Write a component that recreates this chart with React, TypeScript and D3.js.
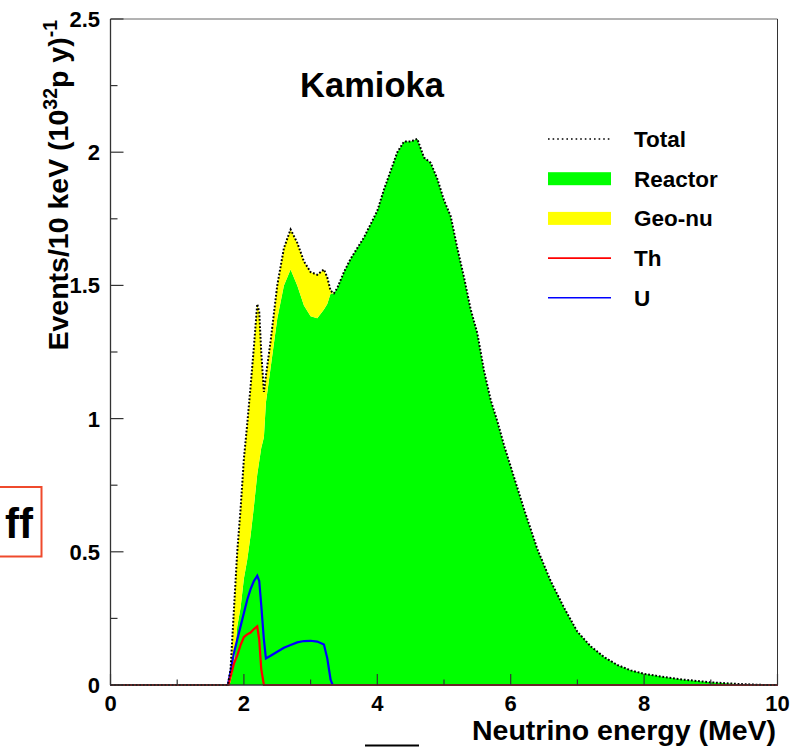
import React from "react";
import * as d3 from "d3";

// ---- data ----
const energy = [0, 1.70, 1.76, 1.80, 1.85, 1.90, 1.95, 2.00, 2.05, 2.10,
  2.15, 2.20, 2.23, 2.26, 2.30, 2.33, 2.40, 2.50, 2.60, 2.70,
  2.80, 2.90, 3.00, 3.10, 3.20, 3.25, 3.30, 3.35, 3.40, 3.50,
  3.60, 3.70, 3.80, 3.90, 4.00, 4.10, 4.20, 4.30, 4.40, 4.50,
  4.60, 4.70, 4.80, 4.90, 5.00, 5.10, 5.20, 5.30, 5.40, 5.50,
  5.60, 5.70, 5.80, 5.90, 6.00, 6.20, 6.40, 6.60, 6.80, 7.00,
  7.20, 7.40, 7.60, 7.80, 8.00, 8.30, 8.60, 9.00, 9.40, 9.80, 10.0];

const reactor = [0, 0, 0, 0.01, 0.08, 0.22, 0.29, 0.40, 0.47, 0.56,
  0.67, 0.79, 0.84, 0.89, 0.93, 1.06, 1.19, 1.375, 1.50, 1.56,
  1.50, 1.425, 1.384, 1.377, 1.41, 1.43, 1.47, 1.47, 1.49, 1.55,
  1.60, 1.64, 1.68, 1.73, 1.78, 1.86, 1.93, 2.00, 2.04, 2.04,
  2.05, 1.98, 1.96, 1.90, 1.82, 1.76, 1.64, 1.53, 1.41, 1.32,
  1.18, 1.07, 0.99, 0.90, 0.82, 0.66, 0.51, 0.39, 0.29, 0.20,
  0.145, 0.105, 0.075, 0.055, 0.042, 0.03, 0.02, 0.01, 0.004, 0, 0];

const total = [0, 0, 0, 0.06, 0.28, 0.50, 0.66, 0.85, 0.98, 1.12,
  1.27, 1.43, 1.40, 1.25, 1.10, 1.16, 1.29, 1.50, 1.64, 1.71,
  1.66, 1.59, 1.55, 1.54, 1.56, 1.53, 1.48, 1.47, 1.49, 1.55,
  1.60, 1.64, 1.68, 1.73, 1.78, 1.86, 1.93, 2.00, 2.04, 2.04,
  2.05, 1.98, 1.96, 1.90, 1.82, 1.76, 1.64, 1.53, 1.41, 1.32,
  1.18, 1.07, 0.99, 0.90, 0.82, 0.66, 0.51, 0.39, 0.29, 0.20,
  0.145, 0.105, 0.075, 0.055, 0.042, 0.03, 0.02, 0.01, 0.004, 0, 0];

const uEnergy = [0, 1.76, 1.80, 1.85, 1.90, 1.95, 2.00, 2.05, 2.10, 2.15, 2.20, 2.23, 2.26, 2.30, 2.33,
  2.40, 2.50, 2.60, 2.70, 2.80, 2.90, 3.00, 3.10, 3.20, 3.25, 3.30, 3.33, 10];
const uRate = [0, 0, 0.05, 0.12, 0.17, 0.22, 0.27, 0.32, 0.36, 0.39, 0.41, 0.39, 0.30, 0.17, 0.10,
  0.11, 0.125, 0.14, 0.15, 0.16, 0.165, 0.166, 0.163, 0.152, 0.10, 0.02, 0, 0];

const thEnergy = [0, 1.77, 1.80, 1.85, 1.90, 1.95, 2.00, 2.05, 2.10, 2.15, 2.20, 2.23, 2.26, 2.30, 10];
const thRate = [0, 0, 0.03, 0.08, 0.11, 0.15, 0.18, 0.19, 0.197, 0.21, 0.22, 0.17, 0.06, 0, 0];

const xMajor = [0, 2, 4, 6, 8, 10];
const xMajorLabels = ["0", "2", "4", "6", "8", "10"];
const xMinor = [1, 3, 5, 7, 9];
const yMajor = [0, 0.5, 1, 1.5, 2, 2.5];
const yMajorLabels = ["0", "0.5", "1", "1.5", "2", "2.5"];
const yMinor = [0.25, 0.75, 1.25, 1.75, 2.25];

const legendLabels = ["Total", "Reactor", "Geo-nu", "Th", "U"];

const FONT = "'Liberation Sans', Arial, Helvetica, sans-serif";

export default function App() {
  const W = 809, H = 747;
  const L = 110.5, R = 777.5, T = 19, B = 685;
  const x = d3.scaleLinear().domain([0, 10]).range([L, R]);
  const y = d3.scaleLinear().domain([0, 2.5]).range([B, T]);
  const idx = energy.map((_, i) => i);

  const greenArea = d3.area<number>()
    .x(i => x(energy[i])).y0(y(0)).y1(i => y(reactor[i]))(idx) || "";
  const yellowArea = d3.area<number>()
    .x(i => x(energy[i])).y0(i => y(reactor[i])).y1(i => y(total[i]))(idx) || "";
  const totalLine = d3.line<number>()
    .x(i => x(energy[i])).y(i => y(total[i]))(idx) || "";
  const uLine = d3.line<number>()
    .x((_, i) => x(uEnergy[i])).y((_, i) => y(uRate[i]))(uRate as any) || "";
  const thLine = d3.line<number>()
    .x((_, i) => x(thEnergy[i])).y((_, i) => y(thRate[i]))(thRate as any) || "";

  const legX1 = 548, legX2 = 611, legTextX = 634;
  const legY = (k: number) => 139 + k * 39.7;

  return (
    <svg width={W} height={H} style={{ position: "absolute", left: 0, top: 0, background: "#fff" }}
      fontFamily={FONT} fontWeight="bold">
      <rect x={0} y={0} width={W} height={H} fill="#fff" />
      {/* data */}
      <path d={greenArea} fill="#00ff00" />
      <path d={yellowArea} fill="#ffff00" />
      <path d={uLine} fill="none" stroke="#0000ff" strokeWidth={2.2} />
      <path d={thLine} fill="none" stroke="#ff0000" strokeWidth={2.2} />
      <path d={totalLine} fill="none" stroke="#000" strokeWidth={2} strokeDasharray="1.8 1.8" />

      {/* frame */}
      <line x1={L} y1={T} x2={R} y2={T} stroke="#666" strokeWidth={1} />
      <line x1={R} y1={T} x2={R} y2={B} stroke="#333" strokeWidth={1} />
      <line x1={L} y1={T} x2={L} y2={B} stroke="#333" strokeWidth={1.3} />
      <line x1={L} y1={B} x2={R} y2={B} stroke="#333" strokeWidth={1.3} />

      {/* x ticks */}
      {xMajor.map((v, i) => (
        <g key={"xm" + i}>
          <line x1={x(v)} x2={x(v)} y1={B} y2={B - 11} stroke="#333" strokeWidth={1.2} />
          <text x={x(v)} y={710.5} fontSize={22} textAnchor="middle">{xMajorLabels[i]}</text>
        </g>
      ))}
      {xMinor.map((v, i) => (
        <line key={"xn" + i} x1={x(v)} x2={x(v)} y1={B} y2={B - 5.5} stroke="#333" strokeWidth={1.2} />
      ))}
      {/* y ticks */}
      {yMajor.map((v, i) => (
        <g key={"ym" + i}>
          <line x1={L} x2={L + 13} y1={y(v)} y2={y(v)} stroke="#333" strokeWidth={1.2} />
          <text x={100} y={y(v) + 8} fontSize={22} textAnchor="end">{yMajorLabels[i]}</text>
        </g>
      ))}
      {yMinor.map((v, i) => (
        <line key={"yn" + i} x1={L} x2={L + 7} y1={y(v)} y2={y(v)} stroke="#333" strokeWidth={1.2} />
      ))}

      {/* axis titles */}
      <text x={776} y={740} fontSize={28.5} textAnchor="end">Neutrino energy (MeV)</text>
      <text transform="translate(68,20) rotate(-90)" fontSize={28.5} textAnchor="end">
        Events/10 keV (10<tspan fontSize={19.5} dy={-11}>32</tspan><tspan dy={11}>p y)</tspan><tspan fontSize={19.5} dy={-11}>-1</tspan>
      </text>

      {/* title */}
      <text x={372} y={97} fontSize={34.5} textAnchor="middle">Kamioka</text>

      {/* legend */}
      <line x1={legX1} x2={legX2} y1={legY(0)} y2={legY(0)} stroke="#000" strokeWidth={1.6} strokeDasharray="1.6 3" />
      <rect x={legX1} y={legY(1) - 6.5} width={legX2 - legX1} height={13} fill="#00ff00" />
      <rect x={legX1} y={legY(2) - 6.5} width={legX2 - legX1} height={13} fill="#ffff00" />
      <line x1={legX1} x2={legX2} y1={legY(3)} y2={legY(3)} stroke="#ff0000" strokeWidth={1.6} />
      <line x1={legX1} x2={legX2} y1={legY(4)} y2={legY(4)} stroke="#0000ff" strokeWidth={1.6} />
      {legendLabels.map((s, k) => (
        <text key={s} x={legTextX} y={legY(k) + 8} fontSize={22.5}>{s}</text>
      ))}

      {/* stray elements at the edges of the reference */}
      <rect x={-10} y={487} width={51.5} height={69.5} fill="#fff" stroke="#ef4a2c" strokeWidth={2} />
      <text x={33} y={538} fontSize={42} textAnchor="end">ff</text>
      <line x1={365} x2={419} y1={745.5} y2={745.5} stroke="#000" strokeWidth={2} />
    </svg>
  );
}
